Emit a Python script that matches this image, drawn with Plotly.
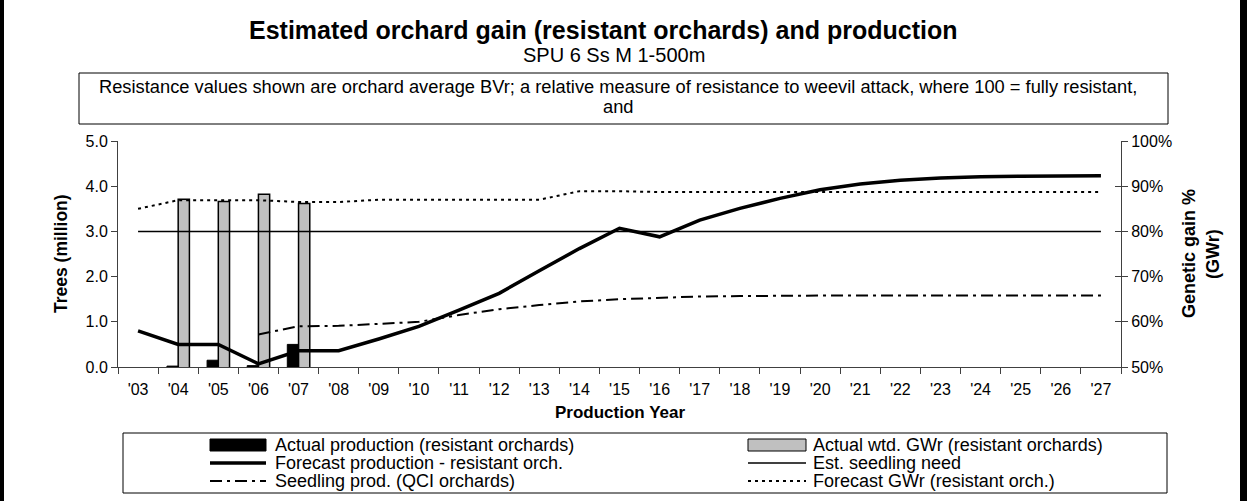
import plotly.graph_objects as go

# ---------------- data ----------------
years = ["'03", "'04", "'05", "'06", "'07", "'08", "'09", "'10", "'11", "'12",
         "'13", "'14", "'15", "'16", "'17", "'18", "'19", "'20", "'21", "'22",
         "'23", "'24", "'25", "'26", "'27"]

actual_prod = [None, 0.02, 0.15, 0.03, 0.50, None, None, None, None, None,
               None, None, None, None, None, None, None, None, None, None,
               None, None, None, None, None]

actual_gwr = [None, 87.1, 86.6, 88.2, 86.2, None, None, None, None, None,
              None, None, None, None, None, None, None, None, None, None,
              None, None, None, None, None]

forecast_prod = [0.80, 0.50, 0.50, 0.07, 0.36, 0.36, 0.62, 0.90, 1.26, 1.63,
                 2.13, 2.62, 3.07, 2.88, 3.25, 3.51, 3.73, 3.92, 4.05, 4.13,
                 4.18, 4.21, 4.22, 4.23, 4.23]

seedling_need = [3.0, 3.0, 3.0, 3.0, 3.0, 3.0, 3.0, 3.0, 3.0, 3.0,
                 3.0, 3.0, 3.0, 3.0, 3.0, 3.0, 3.0, 3.0, 3.0, 3.0,
                 3.0, 3.0, 3.0, 3.0, 3.0]

qci_prod = [None, None, None, 0.72, 0.90, 0.91, 0.95, 1.00, 1.15, 1.28,
            1.37, 1.45, 1.50, 1.53, 1.56, 1.57, 1.58, 1.58, 1.58, 1.58,
            1.58, 1.58, 1.58, 1.58, 1.58]

forecast_gwr = [85.0, 86.9, 86.9, 86.9, 86.5, 86.5, 87.0, 87.0, 87.0, 87.0,
                87.0, 88.9, 88.9, 88.7, 88.7, 88.7, 88.7, 88.7, 88.7, 88.7,
                88.7, 88.7, 88.7, 88.7, 88.7]

legend_names = ["Actual production (resistant orchards)",
                "Actual wtd. GWr (resistant orchards)",
                "Forecast production - resistant orch.",
                "Est. seedling need",
                "Seedling prod. (QCI orchards)",
                "Forecast GWr (resistant orch.)"]

title_text = "Estimated orchard gain (resistant orchards) and production"
subtitle_text = "SPU 6 Ss M 1-500m"
note_line1 = ("Resistance values shown are orchard average BVr; a relative measure of "
              "resistance to weevil attack, where 100 = fully resistant,")
note_line2 = "and"

# ---------------- layout geometry (pixels) ----------------
W, H = 1247, 501
L, R, T, B = 118, 1121, 141, 367
FONT = "Liberation Sans, Arial, sans-serif"
DASHDOT = "12px,5px,3px,5px"
DOT = "3px,4px"


def px(x):
    return (x - L) / (R - L)


def py(y):
    return (B - y) / (B - T)


fig = go.Figure()

# base subplot (right axis): grey bars + forecast GWr
fig.add_trace(go.Bar(x=years, y=actual_gwr, yaxis="y2", name=legend_names[1],
                     width=0.28, offset=0.0,
                     marker=dict(color="#C0C0C0", line=dict(color="black", width=1.5)),
                     showlegend=False))
fig.add_trace(go.Scatter(x=years, y=forecast_gwr, yaxis="y2", mode="lines",
                         name=legend_names[5],
                         line=dict(color="black", width=2, dash=DOT),
                         showlegend=False))
# overlay subplot (left axis)
fig.add_trace(go.Bar(x=years, y=actual_prod, yaxis="y", name=legend_names[0],
                     width=0.28, offset=-0.28,
                     marker=dict(color="black", line=dict(color="black", width=1)),
                     showlegend=False))
fig.add_trace(go.Scatter(x=years, y=seedling_need, yaxis="y", mode="lines",
                         name=legend_names[3],
                         line=dict(color="black", width=1.5), showlegend=False))
fig.add_trace(go.Scatter(x=years, y=qci_prod, yaxis="y", mode="lines",
                         name=legend_names[4],
                         line=dict(color="black", width=2, dash=DASHDOT),
                         showlegend=False))
fig.add_trace(go.Scatter(x=years, y=forecast_prod, yaxis="y", mode="lines",
                         name=legend_names[2],
                         line=dict(color="black", width=3.5), showlegend=False))
# invisible helper trace carrying the inner half of the right-axis cross ticks
fig.add_trace(go.Scatter(x=[years[0]], y=[None], yaxis="y3", mode="lines",
                         showlegend=False, hoverinfo="skip"))

axis_col = "#404040"
fig.update_layout(
    width=W, height=H,
    margin=dict(l=L, r=W - R, t=T, b=H - B),
    paper_bgcolor="white", plot_bgcolor="white",
    font=dict(family=FONT, size=16, color="black"),
    barmode="overlay",
    showlegend=False,
    xaxis=dict(type="category", range=[-0.5, 24.5], tickson="boundaries",
               ticks="outside", ticklen=6, tickcolor=axis_col, showline=True,
               linecolor=axis_col, linewidth=1, showgrid=False, zeroline=False,
               tickfont=dict(size=16), ticklabelstandoff=8),
    yaxis=dict(overlaying="y2", side="left", range=[0, 5], dtick=1, tickformat=".1f",
               ticks="outside", ticklen=6, tickcolor=axis_col, showline=True,
               linecolor=axis_col, linewidth=1, showgrid=False, zeroline=False,
               tickfont=dict(size=16)),
    yaxis2=dict(side="right", anchor="x", range=[50, 100], dtick=10, ticksuffix="%",
                ticks="outside", ticklen=6, tickcolor=axis_col, showline=True,
                linecolor=axis_col, linewidth=1, showgrid=False, zeroline=False,
                tickfont=dict(size=16)),
    yaxis3=dict(overlaying="y2", side="right", anchor="x", range=[50, 100], dtick=10,
                ticks="inside", ticklen=6, tickcolor=axis_col, showline=False,
                showticklabels=False, showgrid=False, zeroline=False),
)

shapes = []
annotations = []


def text(t, x, y, size, xanchor="center", bold=False, angle=0):
    annotations.append(dict(text=("<b>%s</b>" % t) if bold else t,
                            x=px(x), y=py(y), xref="paper", yref="paper",
                            showarrow=False, xanchor=xanchor, yanchor="middle",
                            textangle=angle, font=dict(size=size)))


# titles
text(title_text, 603, 30, 25, bold=True)
text(subtitle_text, 614, 55, 20)

# axis titles
text("Production Year", 620, 412, 17, bold=True)
text("Trees (million)", 61, 254, 17.5, bold=True, angle=-90)
text("Genetic gain %", 1189, 254, 18, bold=True, angle=-90)
text("(GWr)", 1213, 254, 18, bold=True, angle=-90)

# note box
shapes.append(dict(type="rect", xref="paper", yref="paper",
                   x0=px(79), x1=px(1168), y0=py(73), y1=py(124),
                   line=dict(color="black", width=1), fillcolor="white", layer="above"))
text(note_line1, 618, 86, 18.3)
text(note_line2, 618, 106, 18.3)

# manual legend box
shapes.append(dict(type="rect", xref="paper", yref="paper",
                   x0=px(123), x1=px(1167), y0=py(433), y1=py(493),
                   line=dict(color="black", width=1), fillcolor="white"))
rows = [445, 463, 481]
cols = [(210, 266, 273), (748, 806, 811)]
styles = [("rect", "black", "black"), ("rect", "#C0C0C0", "black"),
          ("line", 3.5, "solid"), ("line", 1.5, "solid"),
          ("line", 2, DASHDOT), ("line", 2, DOT)]
for i, name in enumerate(legend_names):
    r, c = divmod(i, 2)
    x0, x1, xt = cols[c]
    yc = rows[r]
    st = styles[i]
    if st[0] == "rect":
        shapes.append(dict(type="rect", xref="paper", yref="paper",
                           x0=px(x0), x1=px(x1), y0=py(yc - 6), y1=py(yc + 6),
                           fillcolor=st[1], line=dict(color=st[2], width=1)))
    else:
        shapes.append(dict(type="line", xref="paper", yref="paper",
                           x0=px(x0), x1=px(x1), y0=py(yc), y1=py(yc),
                           line=dict(color="black", width=st[1], dash=st[2])))
    text(name, xt, yc, 18, xanchor="left")

# outer border strips
shapes.append(dict(type="rect", xref="paper", yref="paper",
                   x0=px(0), x1=px(4), y0=py(0), y1=py(H),
                   fillcolor="black", line=dict(width=0)))
shapes.append(dict(type="rect", xref="paper", yref="paper",
                   x0=px(1240), x1=px(W), y0=py(0), y1=py(H),
                   fillcolor="black", line=dict(width=0)))

fig.update_layout(shapes=shapes, annotations=annotations)
fig.write_html("out.html", config={"displayModeBar": False},
               post_script="document.body.style.margin='0';")
